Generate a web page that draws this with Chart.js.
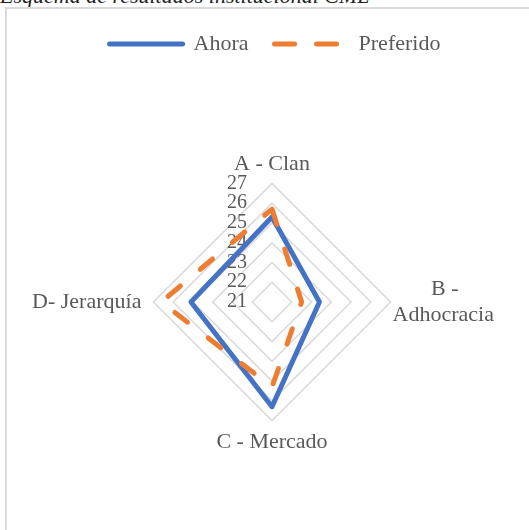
<!DOCTYPE html>
<html>
<head>
<meta charset="utf-8">
<script src="https://cdn.jsdelivr.net/npm/chart.js@4/dist/chart.umd.min.js"></script>
<style>
html,body{margin:0;padding:0;background:#fff;overflow:hidden;}
body{width:529px;height:530px;position:relative;}
#title{position:absolute;left:0;top:-15px;font:italic 22px 'Liberation Serif',serif;color:#222;white-space:nowrap;line-height:22px;}
#frame{position:absolute;left:5px;top:7px;width:600px;height:600px;border:2px solid #d9d9d9;}
#wrap{position:absolute;left:0;top:0;width:529px;height:530px;}
</style>
</head>
<body>
<div id="title">Esquema de resultados institucional CML</div>
<div id="frame"></div>
<div id="wrap"><canvas id="c" width="529" height="530"></canvas></div>
<script>
// ---- data ----
const categories = ['A - Clan', ['B -', 'Adhocracia'], 'C - Mercado', 'D- Jerarquía'];
const seriesNames = ['Ahora', 'Preferido'];
const ahora = [25.3, 23.4, 26.3, 25.1];
const preferido = [25.7, 22.5, 25.3, 26.6];
const tickValues = [21, 22, 23, 24, 25, 26, 27];

// ---- styling / layout ----
const FONT = "'Liberation Serif', serif";
const TEXT = '#595959';
const LABEL_SIZE = 22;
const LABEL_PAD = [-4, -8, -2, 2];
const LEGEND_BLOCK = 143;
const LEGEND_SHIFT = 7;

function centerLines(lines, fontSize) {
  const c = document.createElement('canvas').getContext('2d');
  c.font = fontSize + 'px ' + FONT;
  const ws = lines.map(l => c.measureText(l).width);
  const max = Math.max(...ws);
  const en = c.measureText('\u2002').width;
  const sp = c.measureText(' ').width;
  return lines.map((l, i) => {
    const d = (max - ws[i]) / 2;
    const nEn = Math.floor(d / en);
    const nSp = Math.round((d - nEn * en) / sp);
    return '\u2002'.repeat(nEn) + ' '.repeat(nSp) + l;
  });
}

const layoutTweak = {
  id: 'layoutTweak',
  beforeLayout(chart) {
    const lg = chart.legend;
    if (lg && !lg.__wrapped) {
      const f = lg.fit;
      lg.fit = function () { f.call(this); this.height = LEGEND_BLOCK; };
      lg.__wrapped = true;
    }
  },
  afterLayout(chart) {
    const lg = chart.legend;
    if (lg) { lg.left += LEGEND_SHIFT; lg.right += LEGEND_SHIFT; }
  }
};

new Chart(document.getElementById('c'), {
  type: 'radar',
  data: {
    labels: categories,
    datasets: [
      {
        label: seriesNames[0], data: ahora, order: 1,
        borderColor: '#4472C4', backgroundColor: '#4472C4', borderWidth: 5,
        borderCapStyle: 'round', borderJoinStyle: 'round',
        pointRadius: 0, pointHoverRadius: 0, fill: false
      },
      {
        label: seriesNames[1], data: preferido, order: 0,
        borderColor: '#ED7D31', backgroundColor: '#ED7D31', borderWidth: 5,
        borderDash: [16, 26], borderCapStyle: 'round', borderJoinStyle: 'round',
        pointRadius: 0, pointHoverRadius: 0, fill: false
      }
    ]
  },
  options: {
    responsive: false,
    animation: false,
    layout: { padding: { top: 7, left: 13, right: 6, bottom: 74 } },
    plugins: {
      legend: {
        position: 'top',
        labels: {
          boxWidth: 73, boxHeight: 0,
          padding: 26, color: TEXT, font: { family: FONT, size: LABEL_SIZE },
          sort: (a, b) => a.datasetIndex - b.datasetIndex
        }
      },
      tooltip: { enabled: false },
      title: { display: false }
    },
    scales: {
      r: {
        min: tickValues[0], max: tickValues[tickValues.length - 1],
        angleLines: { display: false },
        grid: { color: '#d9d9d9', lineWidth: 1.5, circular: false },
        afterBuildTicks: s => {
          s.ticks = [{ value: tickValues[0] }].concat(tickValues.map(v => ({ value: v })));
        },
        ticks: {
          color: TEXT, font: { family: FONT, size: 20 },
          showLabelBackdrop: false, backdropPadding: 0,
          callback: (v, i) => i === 0 ? '' : String(v) + '\u2002'.repeat(7)
        },
        pointLabels: {
          color: TEXT, font: { family: FONT, size: LABEL_SIZE },
          padding: ctx => LABEL_PAD[ctx.index],
          callback: label => Array.isArray(label) ? centerLines(label, LABEL_SIZE) : label
        }
      }
    }
  },
  plugins: [layoutTweak]
});
</script>
</body>
</html>
